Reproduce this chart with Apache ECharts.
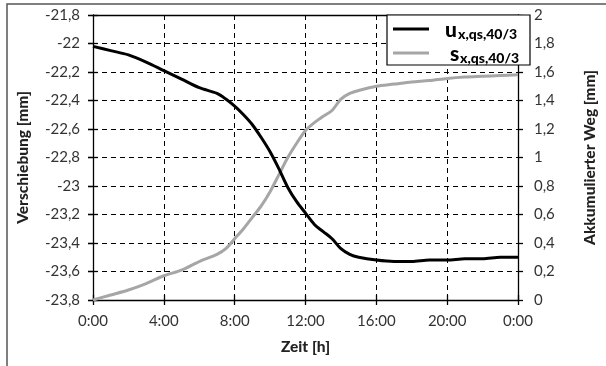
<!DOCTYPE html>
<html>
<head>
<meta charset="utf-8">
<script src="https://cdn.jsdelivr.net/npm/echarts@6/dist/echarts.min.js"></script>
<style>
  html, body { margin: 0; padding: 0; background: #fff; }
  #chart { width: 606px; height: 366px; }
</style>
</head>
<body>
<div id="chart"></div>
<script>
// Time axis (hours since start)
const hours = [0, 1, 2, 3, 4, 5, 6, 7, 7.5, 8, 8.5, 9, 9.5, 10, 10.5, 11, 11.5, 12, 12.5, 13, 13.5, 14, 14.5, 15, 16, 17, 18, 19, 20, 21, 22, 23, 24];

// Displacement u_x,qs,40/3 [mm] (left axis)
const verschiebung = [-22.02, -22.05, -22.08, -22.13, -22.19, -22.25, -22.31, -22.35, -22.39, -22.44, -22.50, -22.57, -22.66, -22.76, -22.88, -23.01, -23.11, -23.19, -23.27, -23.32, -23.37, -23.44, -23.48, -23.50, -23.52, -23.53, -23.53, -23.52, -23.52, -23.51, -23.51, -23.50, -23.50];

// Accumulated path s_x,qs,40/3 [mm] (right axis)
const weg = [0.0, 0.035, 0.07, 0.115, 0.17, 0.21, 0.27, 0.32, 0.36, 0.43, 0.50, 0.58, 0.66, 0.76, 0.88, 1.00, 1.10, 1.19, 1.245, 1.29, 1.33, 1.41, 1.45, 1.47, 1.50, 1.515, 1.53, 1.54, 1.555, 1.565, 1.57, 1.575, 1.58];

const FONT = 'Lato';
const LABEL_COLOR = '#333';
const pairs = (ys) => hours.map((h, i) => [h, ys[i]]);
const comma = (v) => String(Number(v.toFixed(1))).replace('.', ',');

const dashed = { show: true, lineStyle: { color: '#000', width: 1, type: [5, 4] } };
const labelStyle = { color: LABEL_COLOR, fontFamily: FONT, fontSize: 15 };
const titleStyle = { color: '#222', fontFamily: FONT, fontSize: 15.5, fontWeight: 900 };

const chart = echarts.init(document.getElementById('chart'), null, { renderer: 'canvas' });

chart.setOption({
  animation: false,
  backgroundColor: '#fff',
  grid: { left: 93, right: 77, top: 15, bottom: 66, show: false },
  xAxis: [
    {
      type: 'value', min: 0, max: 24, interval: 4, position: 'bottom',
      name: 'Zeit [h]', nameLocation: 'middle', nameGap: 39,
      nameTextStyle: titleStyle,
      axisLine: { show: true, onZero: false, lineStyle: { color: '#000', width: 1.3 } },
      axisTick: { show: true, inside: false, length: 5, lineStyle: { color: '#000', width: 1.3 } },
      axisLabel: { ...labelStyle, margin: 14, formatter: (v) => (v % 24) + ':00' },
      splitLine: dashed
    },
    {
      // inner half of the crossing ticks on the time axis
      type: 'value', min: 0, max: 24, interval: 4, position: 'bottom',
      axisLine: { show: false },
      axisTick: { show: true, inside: true, length: 5, lineStyle: { color: '#000', width: 1.3 } },
      axisLabel: { show: false }, splitLine: { show: false }
    },
    {
      // top frame line
      type: 'value', min: 0, max: 24, position: 'top',
      axisLine: { show: true, onZero: false, lineStyle: { color: '#000', width: 1.3 } },
      axisTick: { show: false }, axisLabel: { show: false }, splitLine: { show: false }
    }
  ],
  yAxis: [
    {
      type: 'value', min: -23.8, max: -21.8, interval: 0.2, position: 'left',
      name: 'Verschiebung [mm]', nameLocation: 'middle', nameGap: 62, nameRotate: 90,
      nameTextStyle: titleStyle,
      axisLine: { show: true, onZero: false, lineStyle: { color: '#000', width: 1.3 } },
      axisTick: { show: true, inside: false, length: 5, lineStyle: { color: '#000', width: 1.3 } },
      axisLabel: { ...labelStyle, margin: 13, formatter: comma },
      splitLine: dashed
    },
    {
      type: 'value', min: 0, max: 2, interval: 0.2, position: 'right',
      name: 'Akkumulierter Weg [mm]', nameLocation: 'middle', nameGap: 64, nameRotate: 90,
      nameTextStyle: titleStyle,
      axisLine: { show: true, onZero: false, lineStyle: { color: '#000', width: 1.3 } },
      axisTick: { show: true, inside: false, length: 5, lineStyle: { color: '#000', width: 1.3 } },
      axisLabel: { ...labelStyle, margin: 16, formatter: comma },
      splitLine: { show: false }
    },
    {
      // inner half of the crossing ticks, left
      type: 'value', min: -23.8, max: -21.8, interval: 0.2, position: 'left',
      axisLine: { show: false },
      axisTick: { show: true, inside: true, length: 5, lineStyle: { color: '#000', width: 1.3 } },
      axisLabel: { show: false }, splitLine: { show: false }
    },
    {
      // inner half of the crossing ticks, right
      type: 'value', min: 0, max: 2, interval: 0.2, position: 'right',
      axisLine: { show: false },
      axisTick: { show: true, inside: true, length: 5, lineStyle: { color: '#000', width: 1.3 } },
      axisLabel: { show: false }, splitLine: { show: false }
    }
  ],
  series: [
    {
      name: 'u', type: 'line', xAxisIndex: 0, yAxisIndex: 0,
      data: pairs(verschiebung), showSymbol: false, smooth: 0.3,
      lineStyle: { color: '#000', width: 3 }, z: 4
    },
    {
      name: 's', type: 'line', xAxisIndex: 0, yAxisIndex: 1,
      data: pairs(weg), showSymbol: false, smooth: 0.3,
      lineStyle: { color: '#a6a6a6', width: 3 }, z: 3
    }
  ],
  graphic: [
    // outer frame
    { type: 'rect', shape: { x: 7, y: 4, width: 640, height: 400 },
      style: { fill: 'none', stroke: '#555', lineWidth: 1.5 }, z: 100 },
    // legend box
    { type: 'rect', shape: { x: 387, y: 15, width: 143, height: 50 },
      style: { fill: '#fff', stroke: '#000', lineWidth: 1.2 }, z: 100 },
    { type: 'line', shape: { x1: 393, y1: 29, x2: 429, y2: 29 },
      style: { stroke: '#000', lineWidth: 3 }, z: 101 },
    { type: 'line', shape: { x1: 393, y1: 53, x2: 429, y2: 53 },
      style: { stroke: '#a6a6a6', lineWidth: 3 }, z: 101 },
    { type: 'text', x: 445, y: 30, z: 101,
      style: { text: 'u', fill: '#000', font: '900 21px Lato', verticalAlign: 'middle' } },
    { type: 'text', x: 458, y: 34, z: 101,
      style: { text: 'x,qs,40/3', fill: '#000', font: '900 14px Lato', verticalAlign: 'middle' } },
    { type: 'text', x: 450, y: 54, z: 101,
      style: { text: 's', fill: '#000', font: '900 21px Lato', verticalAlign: 'middle' } },
    { type: 'text', x: 460, y: 58, z: 101,
      style: { text: 'x,qs,40/3', fill: '#000', font: '900 14px Lato', verticalAlign: 'middle' } }
  ]
});
</script>
</body>
</html>
